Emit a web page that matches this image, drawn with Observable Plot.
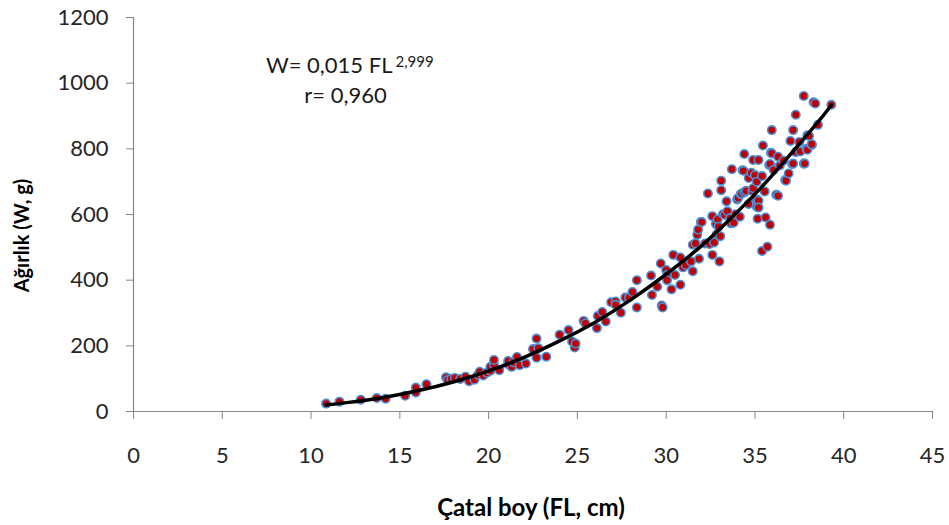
<!DOCTYPE html>
<html><head><meta charset="utf-8">
<script src="https://cdn.jsdelivr.net/npm/d3@7"></script>
<script src="https://cdn.jsdelivr.net/npm/@observablehq/plot@0.6"></script>
<style>html,body{margin:0;padding:0;background:#fff;overflow:hidden}</style>
</head><body><div id="chart"></div>
<script>
// Observed fish: fork length (cm) and weight (g)
const fl = [10.85,11.6,12.8,13.7,14.2,15.3,15.9,15.9,16.5,17.6,17.7,17.9,18.1,18.4,18.7,18.9,19.2,19.4,19.5,19.7,19.9,20.1,20.1,20.3,20.3,20.6,21.1,21.1,21.3,21.4,21.6,21.75,22.1,22.5,22.7,22.7,22.8,23.25,
24.0,24.5,24.7,24.85,24.9,25.35,25.45,26.1,26.15,26.4,26.6,26.9,27.15,27.15,27.45,27.7,27.9,28.1,28.35,28.35,
29.15,29.2,29.5,29.7,29.75,29.8,30.0,30.05,30.05,30.3,30.4,30.5,30.8,30.8,30.95,31.1,31.4,31.5,31.5,31.65,31.75,31.8,31.85,31.95,32.0,32.2,32.35,32.4,32.45,32.6,32.6,32.7,32.8,32.85,32.9,32.95,33.0,33.05,33.1,33.1,33.2,33.3,33.4,33.45,33.6,33.65,33.7,33.8,33.9,34.0,34.05,34.15,34.2,34.25,34.3,34.35,34.4,34.4,34.5,34.65,34.65,34.8,34.85,34.9,34.9,35.0,35.1,35.1,35.1,35.15,35.2,35.2,35.2,35.4,35.4,35.45,35.55,35.6,35.7,35.8,35.85,35.85,35.9,35.95,35.95,36.05,36.2,36.3,36.3,36.4,36.6,36.7,36.75,36.9,37.0,37.1,37.15,37.15,37.3,37.3,37.5,37.55,37.75,37.75,37.8,37.9,37.95,37.95,38.05,38.2,38.2,38.3,38.4,38.55,39.3];
const w = [24,30,36,41,39,48,58,73,83,104,96,100,102,99,106,92,97,112,121,110,118,124,136,142,157,126,144,154,136,150,166,141,146,190,222,164,193,167,
234,248,213,195,207,276,268,254,291,303,274,333,335,325,301,347,347,364,400,317,
414,355,380,451,323,317,431,416,400,372,477,416,469,386,439,446,457,427,508,512,538,554,465,577,577,512,664,512,510,595,477,515,571,540,585,563,457,534,703,674,601,599,640,610,589,573,738,575,601,646,650,593,662,664,735,733,784,668,672,711,632,727,672,766,680,720,700,646,624,587,766,642,621,717,489,810,670,591,502,751,569,754,788,857,786,736,660,776,657,749,764,705,703,725,824,754,857,755,790,904,821,792,961,755,755,800,841,797,839,812,814,942,938,873,934];

// Fitted curve
const curveFL = [10.85,12,14,16,18,20,22,24,26,28,30,32,33.6,35,36.5,38.6,39.3];
const curveW  = [20,27,42,63,90,124,165,215,272,340,418,505,586,662,752,885,934];

const xTicks = [0,5,10,15,20,25,30,35,40,45];
const yTicks = [0,200,400,600,800,1000,1200];
const xLabel = "Çatal boy (FL, cm)";
const yLabel = "Ağırlık (W, g)";
const eqMain = "W= 0,015 FL";
const eqExp = "2,999";
const rText = "r= 0,960";

const points = fl.map((d, i) => ({fl: d, w: w[i]}));
const curve = curveFL.map((d, i) => ({fl: d, w: curveW[i]}));

const font = "Lato, 'Open Sans', sans-serif";
const chart = Plot.plot({
  width: 949, height: 525,
  marginLeft: 133, marginRight: 17, marginTop: 17, marginBottom: 114,
  style: {fontFamily: font, background: "#fff"},
  x: {domain: [0, 45]},
  y: {domain: [0, 1200]},
  marks: [
    Plot.ruleX([0], {stroke: "#868686", strokeWidth: 1.2}),
    Plot.ruleY([0], {stroke: "#868686", strokeWidth: 1.2}),
    Plot.axisX(xTicks, {tickSize: 8, tickPadding: 28, stroke: "#868686", fill: "#262626", fontSize: 22, tickFormat: d => String(d), label: null}),
    Plot.axisY(yTicks, {tickSize: 7, tickPadding: 18, stroke: "#868686", fill: "#262626", fontSize: 22, tickFormat: d => String(d), label: null}),
    Plot.dot(points, {x: "fl", y: "w", r: 4.2, fill: "#c00000", stroke: "#4a8fd6", strokeWidth: 1.6}),
    Plot.line(curve, {x: "fl", y: "w", stroke: "#000", strokeWidth: 3.5, curve: "natural"}),
    Plot.text([yLabel], {frameAnchor: "left", dx: -111, dy: 21, rotate: -90, textAnchor: "middle", lineAnchor: "middle", fontSize: 20, fontWeight: "bold", fill: "#000"}),
    Plot.text([xLabel], {frameAnchor: "bottom", dx: -2, dy: 97, textAnchor: "middle", lineAnchor: "middle", fontSize: 24, fontWeight: "bold", fill: "#000"}),
    Plot.text([eqMain], {frameAnchor: "top-left", dx: 259, dy: 48, textAnchor: "end", lineAnchor: "middle", fontSize: 22, fill: "#1a1a1a"}),
    Plot.text([eqExp], {frameAnchor: "top-left", dx: 262, dy: 45, textAnchor: "start", lineAnchor: "middle", fontSize: 15, fill: "#1a1a1a"}),
    Plot.text([rText], {frameAnchor: "top-left", dx: 212, dy: 78, textAnchor: "middle", lineAnchor: "middle", fontSize: 22, fill: "#1a1a1a"})
  ]
});
document.getElementById("chart").appendChild(chart);
</script>
</body></html>
